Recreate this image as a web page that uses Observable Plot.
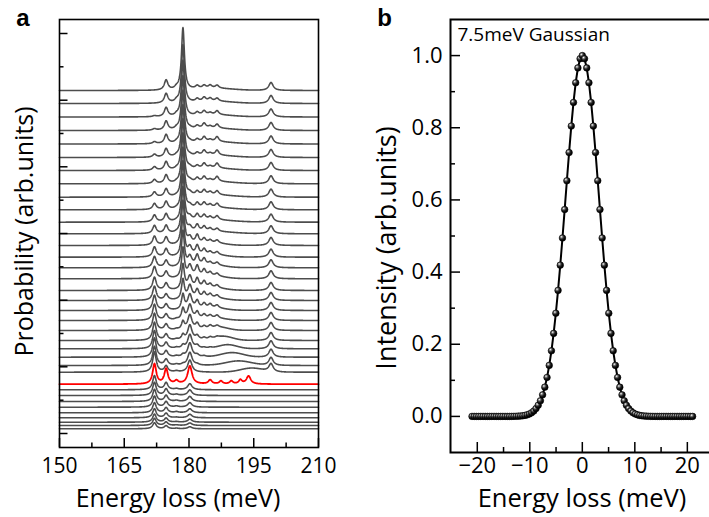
<!DOCTYPE html>
<html><head><meta charset="utf-8">
<script src="https://cdn.jsdelivr.net/npm/d3@7"></script>
<script src="https://cdn.jsdelivr.net/npm/@observablehq/plot@0.6"></script>
<style>
html,body{margin:0;padding:0;background:#fff;}
#wrap{position:relative;width:709px;height:517px;overflow:hidden;font-family:"Open Sans",sans-serif;}
#wrap > svg{position:absolute;top:0;}
</style></head><body><div id="wrap"></div>
<script>
// ---------- Panel a: stacked spectra ----------
const energyTicks = [150, 165, 180, 195, 210];
const energyMinorTicks = [157.5, 172.5, 187.5, 202.5];
const probMajorTicks = [14, 80.7, 147.3, 214, 280.7, 347.3, 414];
const probMinorTicks = [47.3, 114, 180.7, 247.3, 314, 380.7];

// vertical offset of each spectrum (top to bottom), arb. units
const offsets = [357, 344, 330.5, 317, 303.5, 290, 277, 263.7, 250.3, 237.7, 225.3, 213.7,
  202, 190.3, 179.7, 168.7, 157, 147, 137, 127, 117, 107, 98.7, 90.3, 82, 75.3,
  63.3, 57.7, 52, 46, 40.3, 34.7, 29.7, 25.3, 22, 18.7];
const highlighted = 26;

// peak positions (meV) and widths (meV)
const peakCenters = [172.0, 174.7, 177.1, 178.6, 180.2, 181.9, 183.5, 184.9, 186.5, 187.4, 189.8, 191.9, 193.8, 199.0];
const peakWidths  = [1.0, 1.0, 1.0, 0.8, 1.2, 1.0, 1.0, 1.0, 1.0, 0.9, 0.9, 0.9, 1.2, 1.2];
// peak heights, one row per spectrum
const peakHeights = [
  [0, 10, 2, 62, 0, 3, 3, 3, 3, 0, 0, 0, 0, 8],
  [0, 9.5, 2, 58, 0, 3, 4, 3, 3, 0, 0, 0, 0, 8],
  [1, 9, 1.5, 56, 0, 3, 4, 2, 4, 0, 0, 0, 0, 8],
  [1.5, 9, 1.5, 54, 1, 3, 5, 2, 4, 0, 0, 0, 0, 8],
  [2, 9, 1, 53, 1, 3, 5, 2, 5, 0, 0, 0, 0, 8],
  [3, 8.5, 1, 52, 1, 3, 5, 2, 5, 0, 0, 0, 0, 8],
  [3.5, 8.5, 1, 51, 2, 3, 5, 2, 5, 0, 0, 0, 0, 8],
  [4, 8.5, 1, 50, 2, 4, 5, 2, 5, 0, 0, 0, 0, 8],
  [5, 8, 0.5, 49, 3, 4, 5, 3, 4, 0, 0, 0, 0, 8],
  [6, 8, 0.5, 48, 3, 5, 5, 3, 4, 0, 0, 0, 0, 8],
  [7, 8, 0.5, 47, 4, 6, 5, 3, 4, 0, 0, 0, 0, 8],
  [8, 8, 0.5, 46, 5, 7, 5, 3, 3, 0, 0, 0, 0, 8],
  [9, 8, 0, 44, 7, 9, 5, 3, 3, 0, 0, 0, 0, 8],
  [10, 8, 0, 40, 9, 10, 6, 3, 3, 0, 0, 0, 0, 8],
  [11, 7, 0, 36, 10, 11, 7, 3, 3, 0, 0, 0, 0, 8],
  [12, 7, 0, 30, 12, 11, 7, 4, 3, 0, 0, 0, 0, 8],
  [13, 7, 0, 25, 13, 10, 7, 4, 3, 0, 0, 0, 0, 8],
  [14, 6, 0, 20, 14, 9, 6, 4, 3, 0, 0, 0, 0, 8],
  [15, 6, 0, 15, 15, 8, 5, 4, 3, 0, 0, 0, 0, 8],
  [16, 6, 1, 11, 15, 7, 4, 3, 3, 0, 0, 0, 0, 8],
  [17, 6, 1, 8, 15, 6, 3, 3, 2, 0, 0, 0, 0, 8],
  [18, 6, 1, 5, 15, 4, 2, 2, 1, 0, 0, 0, 0, 8],
  [18, 6, 1, 3, 14, 3, 1, 1, 0, 0, 0, 0, 0, 8],
  [19, 6, 1, 2, 14, 2, 1, 0, 0, 0, 0, 0, 0, 8],
  [19, 6, 1, 1, 13, 1, 0, 0, 0, 0, 0, 0, 0, 8],
  [20, 6, 1, 0, 12, 0, 0, 0, 0, 0, 0, 0, 0, 8],
  [20, 15, 3, 0, 18, 0, 0, 4, 0, 3, 3, 4, 8, 0],
  [14, 7, 1, 0, 6, 0, 0, 0, 0, 0, 0, 0, 0, 0],
  [13, 6.5, 1, 0, 5.5, 0, 0, 0, 0, 0, 0, 0, 0, 0],
  [12, 6, 1, 0, 5, 0, 0, 0, 0, 0, 0, 0, 0, 0],
  [11, 5.5, 1, 0, 4.5, 0, 0, 0, 0, 0, 0, 0, 0, 0],
  [10, 5, 1, 0, 4, 0, 0, 0, 0, 0, 0, 0, 0, 0],
  [9, 4.5, 0.5, 0, 3.5, 0, 0, 0, 0, 0, 0, 0, 0, 0],
  [8, 4, 0.5, 0, 3, 0, 0, 0, 0, 0, 0, 0, 0, 0],
  [7, 3.5, 0.5, 0, 2.5, 0, 0, 0, 0, 0, 0, 0, 0, 0],
  [6, 3, 0.5, 0, 2, 0, 0, 0, 0, 0, 0, 0, 0, 0]
];
// broad background bump of each spectrum
const bumpCenters = [186,186,186,186,186,186,186,186,186,186,186,186,
  186,186,186,186,186,186,186,186,187,188,189,190,191.5,194.5,
  190,190,190,190,190,190,190,190,190,190];
const bumpWidths = [10,10,10,10,10,10,10,10,10,10,10,10,
  6,6,6,6,6,6,6,6,5,5,5,6,7,6,
  5,5,5,5,5,5,5,5,5,5];
const bumpHeights = [2,2,2,2,2,2,2,2,2,2,2,2,
  2,2,2,2,2,2,2,2,3,4,4,4.5,4.5,4,
  0,0,0,0,0,0,0,0,0,0];

// ---------- Panel b: Gaussian ----------
const lossTicks = [-20, -10, 0, 10, 20];
const lossMinorTicks = [-15, -5, 5, 15];
const intensityTicks = [0, 0.2, 0.4, 0.6, 0.8, 1.0];
const intensityMinorTicks = [0.1, 0.3, 0.5, 0.7, 0.9];
const gaussX = [-21, -20.58, -20.16, -19.74, -19.32, -18.9, -18.48, -18.06, -17.64, -17.22,
  -16.8, -16.38, -15.96, -15.54, -15.12, -14.7, -14.28, -13.86, -13.44, -13.02,
  -12.6, -12.18, -11.76, -11.34, -10.92, -10.5, -10.08, -9.66, -9.24, -8.82,
  -8.4, -7.98, -7.56, -7.14, -6.72, -6.3, -5.88, -5.46, -5.04, -4.62,
  -4.2, -3.78, -3.36, -2.94, -2.52, -2.1, -1.68, -1.26, -0.84, -0.42, 0,
  0.42, 0.84, 1.26, 1.68, 2.1, 2.52, 2.94, 3.36, 3.78, 4.2,
  4.62, 5.04, 5.46, 5.88, 6.3, 6.72, 7.14, 7.56, 7.98, 8.4,
  8.82, 9.24, 9.66, 10.08, 10.5, 10.92, 11.34, 11.76, 12.18, 12.6,
  13.02, 13.44, 13.86, 14.28, 14.7, 15.12, 15.54, 15.96, 16.38, 16.8,
  17.22, 17.64, 18.06, 18.48, 18.9, 19.32, 19.74, 20.16, 20.58, 21];
const gaussY = [0, 0, 0, 0, 0, 0, 0, 0, 0, 0,
  0, 0, 0, 0, 0, 0, 0, 0, 0.0001, 0.0002,
  0.0004, 0.0007, 0.0011, 0.0018, 0.0028, 0.0044, 0.0067, 0.0101, 0.0149, 0.0216,
  0.0309, 0.0433, 0.0598, 0.0811, 0.1080, 0.1414, 0.1819, 0.2301, 0.2859, 0.3492,
  0.4192, 0.4945, 0.5732, 0.6531, 0.7312, 0.8046, 0.8701, 0.9247, 0.9658, 0.9913, 1,
  0.9913, 0.9658, 0.9247, 0.8701, 0.8046, 0.7312, 0.6531, 0.5732, 0.4945, 0.4192,
  0.3492, 0.2859, 0.2301, 0.1819, 0.1414, 0.1080, 0.0811, 0.0598, 0.0433, 0.0309,
  0.0216, 0.0149, 0.0101, 0.0067, 0.0044, 0.0028, 0.0018, 0.0011, 0.0007, 0.0004,
  0.0002, 0.0001, 0, 0, 0, 0, 0, 0, 0, 0,
  0, 0, 0, 0, 0, 0, 0, 0, 0, 0];

// ---------- build spectra table from peak tables ----------
const grid = d3.range(150, 210.0001, 0.05);
const lor = (e, c, w) => 1 / (1 + ((e - c) / (w / 2)) ** 2);
const gau = (e, c, w) => Math.exp(-4 * Math.LN2 * ((e - c) / w) ** 2);
const spectra = [];
offsets.forEach((off, i) => {
  for (const e of grid) {
    let v = off;
    peakHeights[i].forEach((h, j) => { if (h) v += h * lor(e, peakCenters[j], peakWidths[j]); });
    if (bumpHeights[i]) v += bumpHeights[i] * gau(e, bumpCenters[i], bumpWidths[i]);
    spectra.push({trace: i, energy: e, value: v});
  }
});

const font = "'Open Sans', sans-serif";
const wrap = document.getElementById("wrap");

const pa = Plot.plot({
  width: 340, height: 517,
  marginLeft: 59, marginRight: 22, marginTop: 19, marginBottom: 70,
  x: {domain: [150, 210], label: null},
  y: {domain: [0, 428], label: null},
  style: {fontFamily: font, fontSize: "21px", color: "#000", background: "transparent", overflow: "visible"},
  marks: [
    Plot.line(spectra.filter(d => d.trace !== highlighted), {x: "energy", y: "value", z: "trace", stroke: "#4d4d4d", strokeWidth: 1.6}),
    Plot.line(spectra.filter(d => d.trace === highlighted), {x: "energy", y: "value", stroke: "#ff0000", strokeWidth: 1.8}),
    Plot.axisX(energyMinorTicks, {tickSize: -4.5, fill: "none", label: null, strokeWidth: 1.5}),
    Plot.axisX(energyTicks, {tickSize: -9, tickPadding: 20, fontSize: 21, label: null, strokeWidth: 1.5}),
    Plot.axisY(probMinorTicks, {tickSize: -4.5, fill: "none", label: null, strokeWidth: 1.5}),
    Plot.axisY(probMajorTicks, {tickSize: -8.5, fill: "none", label: null, strokeWidth: 1.5}),
    Plot.frame({stroke: "#000", strokeWidth: 1.6}),
    Plot.text(["Energy loss (meV)"], {frameAnchor: "bottom", textAnchor: "middle", lineAnchor: "middle", dx: -11, dy: 51, fontSize: 25}),
    Plot.text(["Probability (arb.units)"], {frameAnchor: "left", textAnchor: "middle", lineAnchor: "middle", rotate: -90, dx: -35, dy: -2, fontSize: 25}),
    Plot.text(["a"], {frameAnchor: "top-left", textAnchor: "middle", lineAnchor: "middle", dx: -36.5, dy: -1, fontSize: 24, fontWeight: "bold", fontFamily: "'Liberation Sans', Arial, sans-serif"})
  ]
});
pa.style.left = "0px";
wrap.appendChild(pa);

const gauss = gaussX.map((x, i) => ({x, y: gaussY[i]}));
const pb = Plot.plot({
  width: 362, height: 517,
  marginLeft: 100, marginRight: 1, marginTop: 19, marginBottom: 65,
  x: {domain: [-25.1, 24.6], label: null},
  y: {domain: [-0.1, 1.1], label: null},
  style: {fontFamily: font, fontSize: "22px", color: "#000", background: "transparent", overflow: "visible"},
  marks: [
    Plot.axisX(lossMinorTicks, {tickSize: -5, fill: "none", label: null, strokeWidth: 1.5}),
    Plot.axisX(lossTicks, {tickSize: -10, tickPadding: 15, fontSize: 22, label: null, strokeWidth: 1.5}),
    Plot.axisY(intensityMinorTicks, {tickSize: -5, fill: "none", label: null, strokeWidth: 1.5}),
    Plot.axisY(intensityTicks, {tickSize: -10, tickPadding: 18, tickFormat: d3.format(".1f"), fontSize: 22, label: null, strokeWidth: 1.5}),
    Plot.frame({stroke: "#000", strokeWidth: 2}),
    Plot.line(gauss, {x: "x", y: "y", stroke: "#000", strokeWidth: 2}),
    Plot.dot(gauss, {x: "x", y: "y", r: 3.3, fill: "url(#ball)", stroke: "#000", strokeWidth: 0.6}),
    Plot.text(["7.5meV Gaussian"], {frameAnchor: "top-left", textAnchor: "start", lineAnchor: "middle", dx: 7, dy: 15.4, fontSize: 19}),
    Plot.text(["Energy loss (meV)"], {frameAnchor: "bottom", textAnchor: "middle", lineAnchor: "middle", dx: 1, dy: 46, fontSize: 25.5}),
    Plot.text(["Intensity (arb.units)"], {frameAnchor: "left", textAnchor: "middle", lineAnchor: "middle", rotate: -90, dx: -63, dy: 12, fontSize: 27}),
    Plot.text(["b"], {frameAnchor: "top-left", textAnchor: "middle", lineAnchor: "middle", dx: -66, dy: -1, fontSize: 24, fontWeight: "bold", fontFamily: "'Liberation Sans', Arial, sans-serif"})
  ]
});
const defs = d3.select(pb).insert("defs", ":first-child");
const grad = defs.append("radialGradient").attr("id", "ball").attr("cx", "35%").attr("cy", "32%").attr("r", "60%");
grad.append("stop").attr("offset", "0%").attr("stop-color", "#ffffff");
grad.append("stop").attr("offset", "30%").attr("stop-color", "#777777");
grad.append("stop").attr("offset", "60%").attr("stop-color", "#222222");
grad.append("stop").attr("offset", "100%").attr("stop-color", "#000000");
pb.style.left = "350px";
wrap.appendChild(pb);
</script></body></html>
